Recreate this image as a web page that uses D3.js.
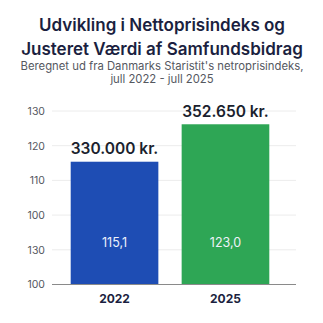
<!DOCTYPE html>
<html>
<head>
<meta charset="utf-8">
<script src="https://cdn.jsdelivr.net/npm/d3@7"></script>
<style>
  html, body { margin: 0; padding: 0; background: #ffffff; }
  svg { display: block; font-family: Inter, "Noto Sans", sans-serif; }
</style>
</head>
<body>
<svg id="chart" width="323" height="323"></svg>
<script>
// Chart data
const years = ["2022", "2025"];
const indexValues = [115.1, 123.0];
const amountLabels = ["330.000 kr.", "352.650 kr."];
const tickLabels = ["100", "130", "100", "110", "120", "130"];
const barColors = ["#1e4db4", "#2ea655"];

const titleLines = ["Udvikling i Nettoprisindeks og", "Justeret Værdi af Samfundsbidrag"];
const subtitleLines = ["Beregnet ud fra Danmarks Staristit's netroprisindeks,", "jull 2022 - jull 2025"];

const W = 323, H = 323;
const svg = d3.select("#chart");
svg.append("rect").attr("width", W).attr("height", H).attr("fill", "#ffffff");

// Title block
const cx = 162;
svg.selectAll("text.title").data(titleLines).join("text")
  .attr("class", "title")
  .attr("x", cx).attr("y", (d, i) => 31 + i * 23.5)
  .attr("text-anchor", "middle")
  .attr("font-size", 17).attr("font-weight", 600)
  .attr("fill", "#1b1f40")
  .text(d => d);

svg.selectAll("text.subtitle").data(subtitleLines).join("text")
  .attr("class", "subtitle")
  .attr("x", cx).attr("y", (d, i) => 70 + i * 12.5)
  .attr("text-anchor", "middle")
  .attr("font-size", 11.3).attr("font-weight", 400)
  .attr("fill", "#55585f")
  .text(d => d);

// Plot area
const plot = { left: 52, right: 296, top: 111, bottom: 284.5 };
const yDomain = [89.2, 125.8];

const x = d3.scaleBand()
  .domain(years)
  .range([70.7, 269.3])
  .paddingInner(0.21)
  .paddingOuter(0);

const y = d3.scaleLinear()
  .domain(yDomain)
  .range([plot.bottom, plot.top]);

// Evenly spaced grid positions carrying the tick labels
const tickValues = d3.range(tickLabels.length)
  .map(i => yDomain[0] + i * (yDomain[1] - yDomain[0]) / (tickLabels.length - 1));

const grid = svg.append("g");
grid.selectAll("line").data(tickValues.slice(1)).join("line")
  .attr("x1", plot.left).attr("x2", plot.right)
  .attr("y1", d => y(d)).attr("y2", d => y(d))
  .attr("stroke", "#ececec").attr("stroke-width", 1);

const yAxis = d3.axisLeft(y)
  .tickValues(tickValues)
  .tickFormat((d, i) => tickLabels[i])
  .tickSize(0)
  .tickPadding(7);

const gy = svg.append("g")
  .attr("transform", `translate(${plot.left},0)`)
  .call(yAxis);
gy.select(".domain").remove();
gy.selectAll("text")
  .attr("font-family", "Inter, 'Noto Sans', sans-serif")
  .attr("font-size", 10.5)
  .attr("fill", "#55585f");

// Bars
const bars = svg.append("g");
bars.selectAll("rect").data(years).join("rect")
  .attr("x", d => x(d))
  .attr("width", x.bandwidth())
  .attr("y", (d, i) => y(indexValues[i]))
  .attr("height", (d, i) => y(yDomain[0]) - y(indexValues[i]))
  .attr("fill", (d, i) => barColors[i]);

// Amount labels above bars
svg.selectAll("text.amount").data(years).join("text")
  .attr("class", "amount")
  .attr("x", d => x(d) + x.bandwidth() / 2)
  .attr("y", (d, i) => y(indexValues[i]) - 7.5)
  .attr("text-anchor", "middle")
  .attr("font-size", 15.5).attr("font-weight", 600)
  .attr("fill", "#1b1f2e")
  .text((d, i) => amountLabels[i]);

// Index values inside bars
const fmt = v => v.toFixed(1).replace(".", ",");
svg.selectAll("text.inner").data(years).join("text")
  .attr("class", "inner")
  .attr("x", d => x(d) + x.bandwidth() / 2)
  .attr("y", plot.bottom - 37.5)
  .attr("text-anchor", "middle")
  .attr("font-size", 12.5).attr("font-weight", 400)
  .attr("fill", "#eef2fb")
  .text((d, i) => fmt(indexValues[i]));

// Baseline
svg.append("line")
  .attr("x1", plot.left).attr("x2", plot.right)
  .attr("y1", plot.bottom).attr("y2", plot.bottom)
  .attr("stroke", "#8a8a8a").attr("stroke-width", 1);

// Year labels
const xAxis = d3.axisBottom(x).tickSize(0).tickPadding(10);
const gx = svg.append("g")
  .attr("transform", `translate(0,${plot.bottom})`)
  .call(xAxis);
gx.select(".domain").remove();
gx.selectAll("text")
  .attr("font-family", "Inter, 'Noto Sans', sans-serif")
  .attr("font-size", 12).attr("font-weight", 700)
  .attr("fill", "#1b1f40");
</script>
</body>
</html>
